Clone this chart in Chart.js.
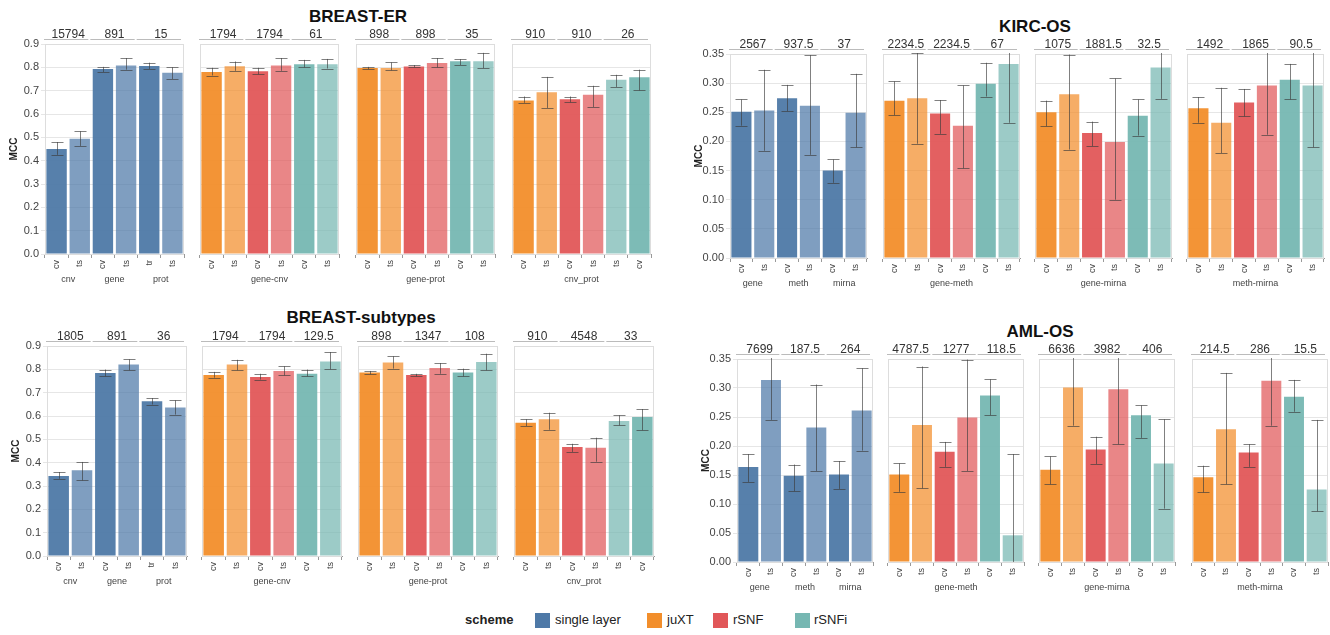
<!DOCTYPE html>
<html>
<head>
<meta charset="utf-8">
<script src="https://cdn.jsdelivr.net/npm/chart.js@4/dist/chart.umd.min.js"></script>
<style>
body { margin:0; background:#fff; width:1330px; height:635px; position:relative; overflow:hidden; font-family:"Liberation Sans", Arial, sans-serif; }
canvas { position:absolute; }
.title { position:absolute; font-weight:bold; font-size:17px; line-height:20px; color:#111; transform:translateX(-50%); white-space:nowrap; }
.lg { position:absolute; top:611px; font-size:13px; line-height:18px; color:#222; white-space:nowrap; }
.sw { position:absolute; top:613px; width:15px; height:15px; }
</style>
</head>
<body>
<div class="title" style="left:358px;top:7px">BREAST-ER</div>
<div class="title" style="left:1035px;top:17px">KIRC-OS</div>
<div class="title" style="left:361px;top:308px">BREAST-subtypes</div>
<div class="title" style="left:1040px;top:322px">AML-OS</div>

<div class="lg" style="left:465px;font-weight:bold">scheme</div>
<div class="sw" style="left:535px;background:#4e79a7"></div><div class="lg" style="left:555px">single layer</div>
<div class="sw" style="left:647px;background:#f28e2b"></div><div class="lg" style="left:667px">juXT</div>
<div class="sw" style="left:713px;background:#e15759"></div><div class="lg" style="left:733px">rSNF</div>
<div class="sw" style="left:795px;background:#76b7b2"></div><div class="lg" style="left:814px">rSNFi</div>

<script>
// tick labels / groups
var breastTicks  = ["cv","ts","cv","ts","tr","ts"];
var omicsTicks   = ["cv","ts","cv","ts","cv","ts"];
var comboTicks   = ["cv","ts","cv","ts","cv","ts"];
var cnvProtTicks = ["cv","ts","cv","ts","ts","cv"];
var breastGroups = ["cnv","gene","prot"];
var omicsGroups  = ["gene","meth","mirna"];
var singleSchemes = ["single layer","single layer","single layer","single layer","single layer","single layer"];
var comboSchemes  = ["juXT","juXT","rSNF","rSNF","rSNFi","rSNFi"];

// BREAST-ER
var erSingle     = [0.450, 0.494, 0.793, 0.808, 0.806, 0.777];
var erSingleErr  = [[0.425,0.480],[0.463,0.526],[0.780,0.802],[0.790,0.840],[0.793,0.820],[0.750,0.800]];
var erGeneCnv    = [0.780, 0.805, 0.783, 0.808, 0.813, 0.813];
var erGeneCnvErr = [[0.765,0.798],[0.785,0.825],[0.770,0.798],[0.785,0.840],[0.800,0.832],[0.795,0.836]];
var erGeneProt   = [0.797, 0.797, 0.804, 0.819, 0.826, 0.826];
var erGeneProtErr= [[0.792,0.802],[0.787,0.821],[0.800,0.810],[0.800,0.840],[0.810,0.835],[0.797,0.862]];
var erCnvProt    = [0.658, 0.693, 0.663, 0.683, 0.747, 0.757];
var erCnvProtErr = [[0.648,0.675],[0.626,0.759],[0.650,0.675],[0.630,0.721],[0.716,0.768],[0.701,0.790]];
var erNumbers = [["15794","891","15"],["1794","1794","61"],["898","898","35"],["910","910","26"]];

// BREAST-subtypes
var subSingle     = [0.343, 0.367, 0.784, 0.821, 0.663, 0.636];
var subSingleErr  = [[0.331,0.360],[0.324,0.403],[0.770,0.799],[0.796,0.843],[0.649,0.677],[0.606,0.667]];
var subGeneCnv    = [0.776, 0.821, 0.767, 0.793, 0.781, 0.834];
var subGeneCnvErr = [[0.764,0.789],[0.796,0.841],[0.756,0.781],[0.774,0.813],[0.770,0.799],[0.800,0.874]];
var subGeneProt   = [0.786, 0.829, 0.776, 0.806, 0.786, 0.831];
var subGeneProtErr= [[0.779,0.793],[0.803,0.856],[0.770,0.781],[0.781,0.827],[0.770,0.803],[0.796,0.867]];
var subCnvProt    = [0.571, 0.586, 0.467, 0.464, 0.579, 0.596];
var subCnvProtErr = [[0.557,0.586],[0.541,0.614],[0.446,0.481],[0.404,0.507],[0.560,0.603],[0.539,0.630]];
var subNumbers = [["1805","891","36"],["1794","1794","129.5"],["898","1347","108"],["910","4548","33"]];

// KIRC-OS
var kircSingle      = [0.251, 0.253, 0.274, 0.261, 0.150, 0.249];
var kircSingleErr   = [[0.227,0.272],[0.184,0.323],[0.252,0.297],[0.177,0.348],[0.129,0.169],[0.190,0.316]];
var kircGeneMeth    = [0.270, 0.274, 0.248, 0.227, 0.299, 0.333];
var kircGeneMethErr = [[0.245,0.303],[0.196,0.352],[0.213,0.271],[0.154,0.296],[0.277,0.335],[0.232,0.434]];
var kircGeneMirna   = [0.250, 0.281, 0.2145, 0.199, 0.244, 0.327];
var kircGeneMirnaErr= [[0.226,0.270],[0.186,0.349],[0.192,0.234],[0.100,0.308],[0.210,0.272],[0.273,0.381]];
var kircMethMirna   = [0.257, 0.232, 0.267, 0.296, 0.306, 0.296];
var kircMethMirnaErr= [[0.232,0.276],[0.180,0.292],[0.243,0.290],[0.2115,0.381],[0.272,0.333],[0.190,0.402]];
var kircNumbers = [["2567","937.5","37"],["2234.5","2234.5","67"],["1075","1881.5","32.5"],["1492","1865","90.5"]];

// AML-OS
var amlSingle      = [0.164, 0.314, 0.1485, 0.232, 0.151, 0.261];
var amlSingleErr   = [[0.138,0.186],[0.245,0.383],[0.122,0.168],[0.157,0.306],[0.126,0.174],[0.192,0.334]];
var amlGeneMeth    = [0.151, 0.236, 0.190, 0.249, 0.287, 0.046];
var amlGeneMethErr = [[0.121,0.170],[0.127,0.337],[0.164,0.207],[0.157,0.349],[0.253,0.315],[-0.094,0.186]];
var amlGeneMirna   = [0.159, 0.301, 0.194, 0.298, 0.253, 0.170];
var amlGeneMirnaErr= [[0.134,0.182],[0.235,0.367],[0.169,0.216],[0.203,0.393],[0.214,0.270],[0.092,0.246]];
var amlMethMirna   = [0.146, 0.229, 0.189, 0.3125, 0.285, 0.125];
var amlMethMirnaErr= [[0.120,0.166],[0.134,0.326],[0.164,0.203],[0.235,0.390],[0.259,0.314],[0.0875,0.245]];
var amlNumbers = [["7699","187.5","264"],["4787.5","1277","118.5"],["6636","3982","406"],["214.5","286","15.5"]];

var schemeRGB = { "single layer":[78,121,167], "juXT":[242,142,43], "rSNF":[225,87,89], "rSNFi":[118,183,178] };

// layout of the four panel rows
var rows = [
  { top:44, bottom:254, w:139, lefts:[45,200,356,512], yMax:0.9, step:0.1, dec:1,
    means:[erSingle,erGeneCnv,erGeneProt,erCnvProt], errs:[erSingleErr,erGeneCnvErr,erGeneProtErr,erCnvProtErr],
    ticks:[breastTicks,comboTicks,comboTicks,cnvProtTicks], groups:[breastGroups,["gene-cnv"],["gene-prot"],["cnv_prot"]], numbers:erNumbers },
  { top:54, bottom:258, w:137, lefts:[730,883,1035,1187], yMax:0.35, step:0.05, dec:2,
    means:[kircSingle,kircGeneMeth,kircGeneMirna,kircMethMirna], errs:[kircSingleErr,kircGeneMethErr,kircGeneMirnaErr,kircMethMirnaErr],
    ticks:[omicsTicks,comboTicks,comboTicks,comboTicks], groups:[omicsGroups,["gene-meth"],["gene-mirna"],["meth-mirna"]], numbers:kircNumbers },
  { top:346, bottom:556, w:140, lefts:[47,202,358,514], yMax:0.9, step:0.1, dec:1,
    means:[subSingle,subGeneCnv,subGeneProt,subCnvProt], errs:[subSingleErr,subGeneCnvErr,subGeneProtErr,subCnvProtErr],
    ticks:[breastTicks,comboTicks,comboTicks,cnvProtTicks], groups:[breastGroups,["gene-cnv"],["gene-prot"],["cnv_prot"]], numbers:subNumbers },
  { top:359, bottom:562, w:136, lefts:[737,888,1039,1192], yMax:0.35, step:0.05, dec:2,
    means:[amlSingle,amlGeneMeth,amlGeneMirna,amlMethMirna], errs:[amlSingleErr,amlGeneMethErr,amlGeneMirnaErr,amlMethMirnaErr],
    ticks:[omicsTicks,comboTicks,comboTicks,comboTicks], groups:[omicsGroups,["gene-meth"],["gene-mirna"],["meth-mirna"]], numbers:amlNumbers }
];

var PAD_T = 30, PAD_R = 4, AX_B = 50;

var extras = {
  id: 'extras',
  beforeDatasetsDraw: function(chart) {
    var a = chart.chartArea, ctx = chart.ctx;
    ctx.save();
    ctx.strokeStyle = '#dddddd';
    ctx.lineWidth = 1;
    ctx.strokeRect(a.left + 0.5, a.top + 0.5, a.right - a.left - 1, a.bottom - a.top);
    ctx.restore();
  },
  afterDatasetsDraw: function(chart) {
    var o = chart.options.plugins.extras;
    var a = chart.chartArea, ctx = chart.ctx;
    var y = chart.scales.y, meta = chart.getDatasetMeta(0);
    var n = meta.data.length, cat = (a.right - a.left) / n;

    // error bars
    ctx.save();
    ctx.beginPath();
    ctx.rect(a.left, a.top - 1, a.right - a.left, a.bottom - a.top + 1);
    ctx.clip();
    ctx.strokeStyle = 'rgba(60,60,60,0.65)';
    ctx.lineWidth = 1;
    o.err.forEach(function(e, i) {
      var x = Math.round(meta.data[i].x) + 0.5;
      var y0 = y.getPixelForValue(e[0]), y1 = y.getPixelForValue(e[1]);
      ctx.beginPath();
      ctx.moveTo(x, y0); ctx.lineTo(x, y1);
      ctx.moveTo(x - 6, Math.round(y0) + 0.5); ctx.lineTo(x + 6, Math.round(y0) + 0.5);
      ctx.moveTo(x - 6, Math.round(y1) + 0.5); ctx.lineTo(x + 6, Math.round(y1) + 0.5);
      ctx.stroke();
    });
    ctx.restore();

    // numbers above each pair
    ctx.save();
    ctx.font = '12px "Liberation Sans", Arial, sans-serif';
    ctx.fillStyle = '#333';
    ctx.textAlign = 'center';
    ctx.textBaseline = 'alphabetic';
    o.numbers.forEach(function(t, k) {
      var xa = meta.data[2 * k].x, xb = meta.data[2 * k + 1].x;
      ctx.strokeStyle = '#bbbbbb';
      ctx.beginPath();
      ctx.moveTo(xa - cat / 2 - 1, a.top - 4.5);
      ctx.lineTo(xb + cat / 2 - 3, a.top - 4.5);
      ctx.stroke();
      ctx.fillText(t, (xa + xb) / 2, a.top - 6);
    });

    // group labels under the axis
    ctx.font = '9px "Liberation Sans", Arial, sans-serif';
    ctx.fillStyle = '#444';
    ctx.textBaseline = 'middle';
    var span = n / o.groups.length;
    o.groups.forEach(function(g, k) {
      var xa = meta.data[k * span].x, xb = meta.data[k * span + span - 1].x;
      ctx.fillText(g, (xa + xb) / 2, a.bottom + 26);
    });

    if (o.first) {
      ctx.font = 'bold 10px "Liberation Sans", Arial, sans-serif';
      ctx.fillStyle = '#222';
      ctx.translate(a.left - 31, (a.top + a.bottom) / 2);
      ctx.rotate(-Math.PI / 2);
      ctx.fillText('MCC', 0, 0);
    }
    ctx.restore();
  }
};

rows.forEach(function(r) {
  r.lefts.forEach(function(left, p) {
    var first = p === 0;
    var L = first ? 45 : 6;
    var c = document.createElement('canvas');
    c.width = r.w + L + PAD_R;
    c.height = (r.bottom - r.top) + PAD_T + AX_B;
    c.style.left = (left - L) + 'px';
    c.style.top = (r.top - PAD_T) + 'px';
    document.body.appendChild(c);

    var labels = r.ticks[p];
    var schemes = first ? singleSchemes : comboSchemes;
    var colors = labels.map(function(l, i) {
      var rgb = schemeRGB[schemes[i]];
      return 'rgba(' + rgb[0] + ',' + rgb[1] + ',' + rgb[2] + ',' + (l === 'ts' ? 0.72 : 0.95) + ')';
    });

    new Chart(c, {
      type: 'bar',
      data: {
        labels: labels,
        datasets: [{
          data: r.means[p],
          backgroundColor: colors,
          borderWidth: 0,
          categoryPercentage: 1.0,
          barPercentage: 0.88
        }]
      },
      options: {
        responsive: false,
        animation: false,
        devicePixelRatio: 1,
        layout: { padding: { top: PAD_T, right: PAD_R, left: 0, bottom: 0 } },
        plugins: {
          legend: { display: false },
          tooltip: { enabled: false },
          extras: { err: r.errs[p], numbers: r.numbers[p], groups: r.groups[p], first: first }
        },
        scales: {
          x: {
            afterFit: function(s) { s.height = AX_B; },
            grid: { display: true, drawOnChartArea: false, tickLength: 4, color: '#999' },
            border: { color: '#999' },
            ticks: {
              autoSkip: false, minRotation: 90, maxRotation: 90, padding: 2,
              color: '#444', font: { size: 9, family: '"Liberation Sans", Arial, sans-serif' }
            }
          },
          y: {
            min: 0, max: r.yMax,
            afterFit: function(s) { s.width = L; },
            grid: { color: '#e6e6e6', drawTicks: first, tickLength: 4 },
            border: { color: first ? '#888' : '#dddddd' },
            ticks: {
              display: first, stepSize: r.step, padding: 2,
              color: '#444', font: { size: 11, family: '"Liberation Sans", Arial, sans-serif' },
              callback: function(v) { return Number(v).toFixed(r.dec); }
            }
          }
        }
      },
      plugins: [extras]
    });
  });
});
</script>
</body>
</html>
